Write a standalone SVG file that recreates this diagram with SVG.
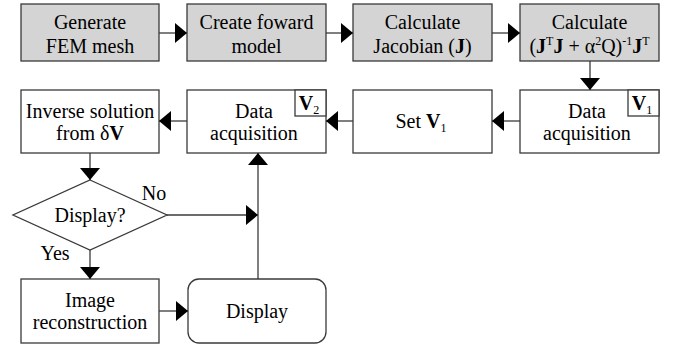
<svg xmlns="http://www.w3.org/2000/svg" width="674" height="345" viewBox="0 0 674 345">
  <defs>
    <!-- filled arrowhead shared by every connector -->
    <marker id="head" markerUnits="userSpaceOnUse" markerWidth="12" markerHeight="20" refX="12" refY="10" orient="auto">
      <path d="M0,0 L12,10 L0,20 z" fill="#000"/>
    </marker>
  </defs>

  <!-- process nodes -->
  <g id="nodes" stroke-width="1.3">
    <!-- top row -->
    <g id="mesh">
      <rect x="21" y="4" width="138" height="57" fill="#d4d4d4" stroke="#3a3a3a"/>
      <text font-family="Liberation Serif" font-size="20" text-anchor="middle" x="90" y="29">Generate</text>
      <text font-family="Liberation Serif" font-size="20" text-anchor="middle" x="90" y="53">FEM mesh</text>
    </g>
    <g id="forward">
      <rect x="187" y="4" width="139" height="57" fill="#d4d4d4" stroke="#3a3a3a"/>
      <text font-family="Liberation Serif" font-size="20" text-anchor="middle" x="256.5" y="29">Create foward</text>
      <text font-family="Liberation Serif" font-size="20" text-anchor="middle" x="256.5" y="53">model</text>
    </g>
    <g id="jacobian">
      <rect x="353" y="4" width="139" height="57" fill="#d4d4d4" stroke="#3a3a3a"/>
      <text font-family="Liberation Serif" font-size="20" text-anchor="middle" x="422.5" y="29">Calculate</text>
      <text font-family="Liberation Serif" font-size="20" text-anchor="middle" x="422.5" y="53">Jacobian (<tspan font-weight="bold">J</tspan>)</text>
    </g>
    <g id="regularised">
      <rect x="520" y="4" width="139" height="57" fill="#d4d4d4" stroke="#3a3a3a"/>
      <text font-family="Liberation Serif" font-size="20" text-anchor="middle" x="589.5" y="29">Calculate</text>
      <text font-family="Liberation Serif" font-size="20" text-anchor="middle" x="589.5" y="53">(<tspan font-weight="bold">J</tspan><tspan font-size="12" dy="-8">T</tspan><tspan font-weight="bold" dy="8">J</tspan> + α<tspan font-size="12" dy="-8">2</tspan><tspan dy="8">Q)</tspan><tspan font-size="12" dy="-8">-1</tspan><tspan font-weight="bold" dy="8">J</tspan><tspan font-size="12" dy="-8">T</tspan></text>
    </g>

    <!-- second row -->
    <g id="acq1">
      <rect x="520" y="90" width="139" height="63" fill="#fff" stroke="#3a3a3a"/>
      <rect x="628" y="90" width="31" height="26" fill="#fff" stroke="#3a3a3a"/>
      <text font-family="Liberation Serif" font-size="20" text-anchor="middle" x="642" y="110"><tspan font-weight="bold">V</tspan><tspan font-size="12" dy="4">1</tspan></text>
      <text font-family="Liberation Serif" font-size="20" text-anchor="middle" x="587" y="118">Data</text>
      <text font-family="Liberation Serif" font-size="20" text-anchor="middle" x="587" y="140">acquisition</text>
    </g>
    <g id="setv1">
      <rect x="353" y="90" width="139" height="63" fill="#fff" stroke="#3a3a3a"/>
      <text font-family="Liberation Serif" font-size="20" text-anchor="middle" x="421" y="128">Set <tspan font-weight="bold">V</tspan><tspan font-size="12" dy="4">1</tspan></text>
    </g>
    <g id="acq2">
      <rect x="187" y="90" width="139" height="63" fill="#fff" stroke="#3a3a3a"/>
      <rect x="295" y="90" width="31" height="26" fill="#fff" stroke="#3a3a3a"/>
      <text font-family="Liberation Serif" font-size="20" text-anchor="middle" x="309" y="110"><tspan font-weight="bold">V</tspan><tspan font-size="12" dy="4">2</tspan></text>
      <text font-family="Liberation Serif" font-size="20" text-anchor="middle" x="254" y="118">Data</text>
      <text font-family="Liberation Serif" font-size="20" text-anchor="middle" x="254" y="140">acquisition</text>
    </g>
    <g id="inverse">
      <rect x="21" y="90" width="138" height="63" fill="#fff" stroke="#3a3a3a"/>
      <text font-family="Liberation Serif" font-size="20" text-anchor="middle" x="90" y="118">Inverse solution</text>
      <text font-family="Liberation Serif" font-size="20" text-anchor="middle" x="90" y="140">from δ<tspan font-weight="bold">V</tspan></text>
    </g>

    <!-- decision -->
    <g id="decision">
      <polygon points="90,180 167,215 90,250 13,215" fill="#fff" stroke="#3a3a3a"/>
      <text font-family="Liberation Serif" font-size="20" text-anchor="middle" x="90" y="222">Display?</text>
    </g>

    <!-- bottom row -->
    <g id="recon">
      <rect x="21" y="279" width="138" height="64" fill="#fff" stroke="#3a3a3a"/>
      <text font-family="Liberation Serif" font-size="20" text-anchor="middle" x="90" y="307">Image</text>
      <text font-family="Liberation Serif" font-size="20" text-anchor="middle" x="90" y="329">reconstruction</text>
    </g>
    <g id="display">
      <rect x="188" y="279" width="138" height="64" rx="11" ry="11" fill="#fff" stroke="#3a3a3a"/>
      <text font-family="Liberation Serif" font-size="20" text-anchor="middle" x="257" y="318">Display</text>
    </g>
  </g>

  <!-- connectors -->
  <g id="connectors" fill="none" stroke="#3a3a3a" stroke-width="1.3">
    <line x1="159" y1="33" x2="187" y2="33" marker-end="url(#head)"/>
    <line x1="326" y1="33" x2="353" y2="33" marker-end="url(#head)"/>
    <line x1="492" y1="33" x2="520" y2="33" marker-end="url(#head)"/>
    <line x1="590" y1="61" x2="590" y2="90" marker-end="url(#head)"/>
    <line x1="520" y1="121" x2="492" y2="121" marker-end="url(#head)"/>
    <line x1="353" y1="121" x2="326" y2="121" marker-end="url(#head)"/>
    <line x1="187" y1="121" x2="159" y2="121" marker-end="url(#head)"/>
    <line x1="90" y1="153" x2="90" y2="180" marker-end="url(#head)"/>
    <line x1="167" y1="215" x2="258" y2="215" marker-end="url(#head)"/>
    <line x1="258" y1="279" x2="258" y2="153" marker-end="url(#head)"/>
    <line x1="90" y1="250" x2="90" y2="279" marker-end="url(#head)"/>
    <line x1="159" y1="311" x2="188" y2="311" marker-end="url(#head)"/>
  </g>
  <g id="branch-labels">
    <text font-family="Liberation Serif" font-size="20" text-anchor="middle" x="154" y="200">No</text>
    <text font-family="Liberation Serif" font-size="20" text-anchor="middle" x="55" y="260">Yes</text>
  </g>
</svg>
